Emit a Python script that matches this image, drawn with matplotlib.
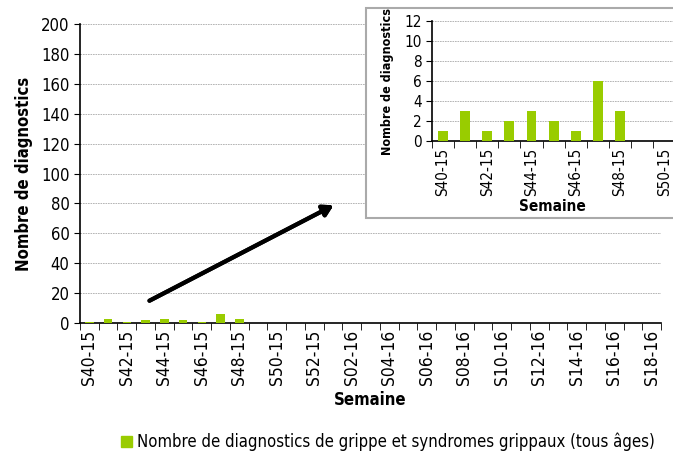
import matplotlib.pyplot as plt
import numpy as np
from matplotlib.patches import Rectangle

plt.rcParams["font.family"] = ["DejaVu Sans"]
plt.rcParams["font.stretch"] = "condensed"

weeks = [f"S{w}-15" for w in range(40, 53)] + [f"S{w:02d}-16" for w in range(1, 19)]
counts = [1, 3, 1, 2, 3, 2, 1, 6, 3] + [0] * 22
main_labels = ["S40-15", "S42-15", "S44-15", "S46-15", "S48-15", "S50-15", "S52-15",
               "S02-16", "S04-16", "S06-16", "S08-16", "S10-16", "S12-16", "S14-16",
               "S16-16", "S18-16"]
inset_labels = ["S40-15", "S42-15", "S44-15", "S46-15", "S48-15", "S50-15"]

green = "#99cc00"
legend_text = "Nombre de diagnostics de grippe et syndromes grippaux (tous âges)"


def style_axes(ax, labels, fs, yfs):
    x = np.arange(len(weeks))
    ax.bar(x, counts, width=0.45, color=green, zorder=3)
    ax.set_xticks([weeks.index(l) for l in labels])
    ax.set_xticklabels(labels, rotation=90, fontsize=fs)
    ax.tick_params(axis="x", which="major", length=0, pad=5)
    ax.set_xticks(np.arange(len(weeks) + 1) - 0.5, minor=True)
    ax.tick_params(axis="x", which="minor", length=5, direction="out", color="black")
    ax.tick_params(axis="y", length=4, labelsize=yfs)
    ax.grid(axis="y", linestyle=(0, (2, 1)), color="#aaaaaa", linewidth=0.6, zorder=0)
    for side in ["top", "right"]:
        ax.spines[side].set_visible(False)
    ax.spines["left"].set_linewidth(1.2)
    ax.spines["bottom"].set_linewidth(1.2)


fig = plt.figure(figsize=(6.73, 4.61), dpi=100)

ax = fig.add_axes([80 / 673, 1 - 323 / 461, 581 / 673, 299 / 461])
style_axes(ax, main_labels, 12.5, 12)
ax.set_xlim(-0.5, len(weeks) - 0.5)
ax.set_ylim(0, 200)
ax.set_yticks(np.arange(0, 201, 20))
ax.set_ylabel("Nombre de diagnostics", fontsize=12, fontweight="bold", labelpad=6)
ax.set_xlabel("Semaine", fontsize=12, fontweight="bold", labelpad=4)

# inset frame
fig.patches.append(Rectangle((366 / 673, 1 - 218 / 461), 320 / 673, 210 / 461,
                             transform=fig.transFigure, facecolor="white",
                             edgecolor="#aaaaaa", linewidth=1.5, zorder=5))

ins = fig.add_axes([432 / 673, 1 - 141 / 461, 241 / 673, 120 / 461], zorder=6)
ins.patch.set_alpha(0)
style_axes(ins, inset_labels, 11, 11)
ins.set_xlim(-0.5, 10.4)
ins.set_ylim(0, 12)
ins.set_yticks(np.arange(0, 13, 2))
ins.set_ylabel("Nombre de diagnostics", fontsize=9, fontweight="bold", labelpad=7)
ins.set_xlabel("Semaine", fontsize=11, fontweight="bold", labelpad=2)

# arrow pointing to the inset
fig.add_artist(plt.annotate("", xy=(336 / 673, 1 - 204 / 461), xytext=(147 / 673, 1 - 302 / 461),
                            xycoords="figure fraction", textcoords="figure fraction",
                            arrowprops=dict(arrowstyle="-|>,head_length=0.6,head_width=0.35",
                                            color="black", lw=3)))

fig.legend(handles=[Rectangle((0, 0), 1, 1, color=green)], labels=[legend_text],
           loc="center", bbox_to_anchor=(388 / 673, 1 - 442 / 461), frameon=False,
           fontsize=12, handlelength=0.7, handleheight=0.7, handletextpad=0.3)

fig.savefig("out.png", dpi=100)
